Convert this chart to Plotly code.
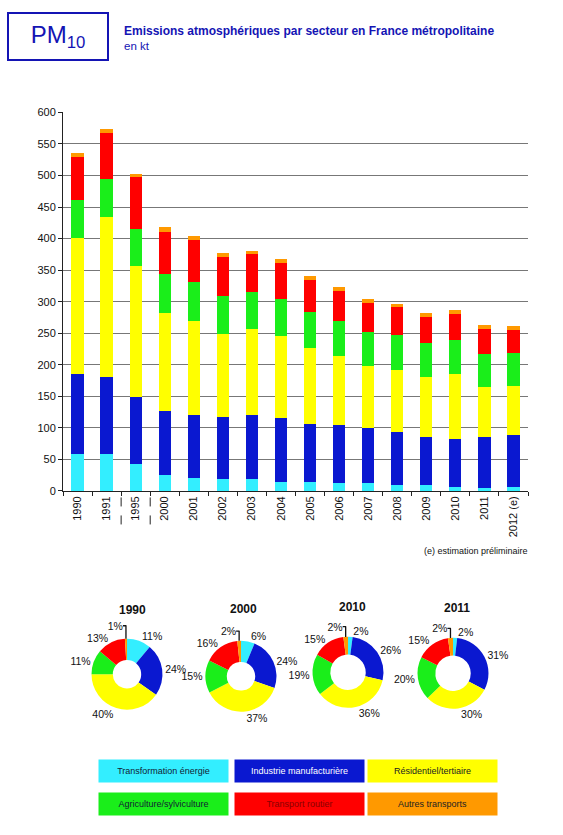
import plotly.graph_objects as go

years = ["1990", "1991", "1995", "2000", "2001", "2002", "2003", "2004",
         "2005", "2006", "2007", "2008", "2009", "2010", "2011", "2012 (e)"]
sectors = ["Transformation énergie", "Industrie manufacturière", "Résidentiel/tertiaire",
           "Agriculture/sylviculture", "Transport routier", "Autres transports"]

transformation = [59, 58, 42, 26, 21, 19, 19, 14, 14, 13, 12, 10, 9, 6, 5, 6]
industrie      = [127, 123, 107, 101, 99, 98, 101, 101, 92, 91, 88, 84, 76, 76, 81, 82]
residentiel    = [215, 253, 207, 155, 150, 131, 137, 130, 121, 110, 98, 97, 95, 103, 79, 79]
agriculture    = [60, 60, 60, 62, 61, 61, 59, 59, 57, 55, 54, 56, 55, 54, 52, 51]
routier        = [69, 74, 82, 67, 67, 62, 59, 57, 51, 48, 46, 44, 41, 42, 40, 37]
autres         = [5, 6, 5, 7, 6, 6, 6, 6, 6, 6, 6, 6, 6, 6, 6, 6]

series = [transformation, industrie, residentiel, agriculture, routier, autres]
colors = ["#33eeff", "#0a18d0", "#ffff00", "#1aee1a", "#ff0000", "#ff9900"]

pie_years = ["1990", "2000", "2010", "2011"]
y_ticks = [0, 50, 100, 150, 200, 250, 300, 350, 400, 450, 500, 550, 600]

W, H = 563, 835
FONT = "Liberation Sans, Arial, sans-serif"
BLUE = "#1414b4"


def px(x):
    return x / W


def py(y):
    return 1 - y / H


fig = go.Figure()
for name, vals, col in zip(sectors, series, colors):
    fig.add_trace(go.Bar(x=years, y=vals, name=name, marker_color=col,
                         marker_line_width=0, showlegend=False))

# donuts
pie_geo = [(127, 678, 36, 0.40), (241, 680, 36, 0.40), (348, 676, 36, 0.50), (453, 677, 36, 0.50)]
for yr, (cx, cy, r, hole) in zip(pie_years, pie_geo):
    i = years.index(yr)
    vals = [s[i] for s in series]
    fig.add_trace(go.Pie(
        labels=sectors, values=vals, sort=False, direction="clockwise", rotation=0,
        hole=hole, marker=dict(colors=colors, line=dict(width=0)),
        textinfo="percent", texttemplate="%{percent:.0%}", textposition="outside",
        textfont=dict(size=10.5, color="#111", family=FONT),
        domain=dict(x=[px(cx - r), px(cx + r)], y=[py(cy + r), py(cy - r)]),
        showlegend=False, hoverinfo="label+percent"))

shapes = []
for xb in [1.5, 2.5]:
    shapes.append(dict(type="line", xref="x", yref="paper", x0=xb, x1=xb,
                       y0=py(526), y1=py(493), line=dict(color="#222", width=1, dash="dash")))

annotations = [
    dict(text="PM<sub>10</sub>", xref="paper", yref="paper", x=px(58), y=py(31),
         showarrow=False, font=dict(size=24, color=BLUE, family=FONT),
         width=98, height=45, bordercolor=BLUE, borderwidth=2, borderpad=0,
         xanchor="center", yanchor="middle"),
    dict(text="<b>Emissions atmosphériques par secteur en France métropolitaine</b>",
         xref="paper", yref="paper", x=px(122), y=py(25), xanchor="left", yanchor="middle",
         showarrow=False, font=dict(size=12, color=BLUE, family=FONT)),
    dict(text="en kt", xref="paper", yref="paper", x=px(122), y=py(41), xanchor="left",
         yanchor="middle", showarrow=False, font=dict(size=11.5, color=BLUE, family=FONT)),
    dict(text="(e) estimation préliminaire", xref="paper", yref="paper", x=px(530), y=py(553),
         xanchor="right", yanchor="middle", showarrow=False,
         font=dict(size=9, color="#111", family=FONT)),
]

title_pos = [(132, 613), (243, 612), (352, 610), (457, 611)]
for yr, (tx, ty) in zip(pie_years, title_pos):
    annotations.append(dict(text="<b>" + yr + "</b>", xref="paper", yref="paper",
                            x=px(tx), y=py(ty), showarrow=False, xanchor="center",
                            yanchor="middle", font=dict(size=12, color="#111", family=FONT)))

legend_pos = [(163, 776), (299, 776), (432, 776), (163, 810), (299, 810), (432, 810)]
legend_txt = ["#123", "#ffffff", "#222", "#123", "#8b0000", "#222"]
for name, col, tcol, (lx, ly) in zip(sectors, colors, legend_txt, legend_pos):
    annotations.append(dict(text=name, xref="paper", yref="paper", x=px(lx), y=py(ly),
                            showarrow=False, xanchor="center", yanchor="middle",
                            width=129, height=22, bgcolor=col, borderpad=0,
                            font=dict(size=9, color=tcol, family=FONT)))

fig.update_layout(
    width=W, height=H, barmode="stack", bargap=0.58,
    margin=dict(l=0, r=0, t=0, b=0), paper_bgcolor="white", plot_bgcolor="white",
    font=dict(family=FONT, color="#111"),
    xaxis=dict(domain=[px(63), px(528)], tickangle=-90, tickfont=dict(size=11),
               showline=True, linecolor="#222", ticks="outside", tickson="boundaries",
               ticklen=4, tickcolor="#222", anchor="y"),
    yaxis=dict(domain=[py(492), py(108)], range=[0, 600], tickvals=y_ticks,
               tickfont=dict(size=11), showline=True, linecolor="#222", ticks="outside",
               ticklen=4, tickcolor="#222", showgrid=True, gridcolor="#777", gridwidth=1,
               zeroline=False),
    shapes=shapes, annotations=annotations,
)

fig.write_html("out.html", config={"displayModeBar": False},
               post_script="document.body.style.margin='0px';document.body.style.overflow='hidden';")
